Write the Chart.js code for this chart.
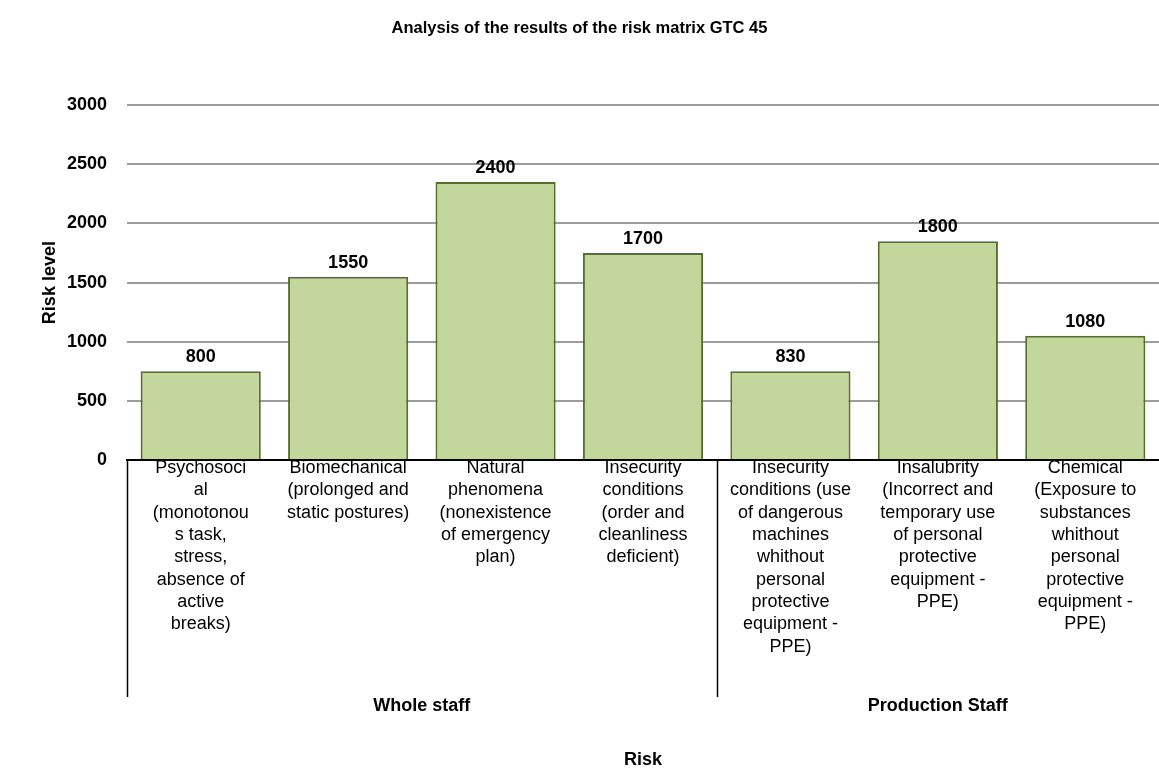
<!DOCTYPE html>
<html>
<head>
<meta charset="utf-8">
<script src="https://cdn.jsdelivr.net/npm/chart.js@4"></script>
<style>
  html, body { margin:0; padding:0; background:#fff; overflow:hidden; }
</style>
</head>
<body>
<canvas id="chart" width="1159" height="772"></canvas>
<script>
// Categorias, partidas en lineas como en la figura original
const categorias = [
  ['Psychosoci', 'al', '(monotonou', 's task,', 'stress,', 'absence of', 'active', 'breaks)'],
  ['Biomechanical', '(prolonged and', 'static postures)'],
  ['Natural', 'phenomena', '(nonexistence', 'of emergency', 'plan)'],
  ['Insecurity', 'conditions', '(order and', 'cleanliness', 'deficient)'],
  ['Insecurity', 'conditions (use', 'of dangerous', 'machines', 'whithout', 'personal', 'protective', 'equipment -', 'PPE)'],
  ['Insalubrity', '(Incorrect and', 'temporary use', 'of personal', 'protective', 'equipment -', 'PPE)'],
  ['Chemical', '(Exposure to', 'substances', 'whithout', 'personal', 'protective', 'equipment -', 'PPE)']
];
const grupos = ['Whole staff', 'Production Staff'];
const tamGrupos = [4, 3];

// altura de las barras y el texto que lleva encima
const nivelRiesgo = [750, 1550, 2350, 1750, 750, 1850, 1050];
const etiquetas = ['800', '1550', '2400', '1700', '830', '1800', '1080'];
const ticksY = [0, 500, 1000, 1500, 2000, 2500, 3000];

const FUENTE = '"Liberation Sans", Arial, sans-serif';
Chart.defaults.color = '#000';
Chart.defaults.font.family = FUENTE;

const extras = {
  id: 'extras',
  afterDatasetsDraw(chart) {
    const ctx = chart.ctx;
    const meta = chart.getDatasetMeta(0);
    ctx.save();
    ctx.font = 'bold 18px ' + FUENTE;
    ctx.fillStyle = '#000';
    ctx.textAlign = 'center';
    ctx.textBaseline = 'middle';
    meta.data.forEach((bar, i) => ctx.fillText(etiquetas[i], bar.x, bar.y - 14));
    ctx.restore();
  },
  afterDraw(chart) {
    const x = chart.scales.x;
    const ctx = chart.ctx;
    const paso = x.getPixelForValue(1) - x.getPixelForValue(0);
    let inicio = 0;
    ctx.save();
    ctx.strokeStyle = '#000';
    ctx.lineWidth = 1.5;
    ctx.font = 'bold 18px ' + FUENTE;
    ctx.fillStyle = '#000';
    ctx.textAlign = 'center';
    ctx.textBaseline = 'middle';
    grupos.forEach((g, k) => {
      const izq = x.getPixelForValue(inicio) - paso / 2;
      const der = x.getPixelForValue(inicio + tamGrupos[k] - 1) + paso / 2;
      ctx.beginPath();
      ctx.moveTo(Math.round(izq) + 0.5, x.top);
      ctx.lineTo(Math.round(izq) + 0.5, x.top + 237);
      ctx.stroke();
      ctx.fillText(g, (izq + der) / 2, x.top + 246);
      inicio += tamGrupos[k];
    });
    ctx.restore();
  }
};

new Chart(document.getElementById('chart'), {
  type: 'bar',
  data: {
    labels: categorias,
    datasets: [{
      label: 'Risk level',
      data: nivelRiesgo,
      backgroundColor: '#c3d69b',
      borderColor: '#556f2c',
      borderWidth: 2,
      categoryPercentage: 1,
      barPercentage: 0.815
    }]
  },
  options: {
    responsive: false,
    animation: false,
    devicePixelRatio: 1,
    layout: { padding: 0 },
    plugins: {
      legend: { display: false },
      tooltip: { enabled: false },
      title: {
        display: true,
        text: 'Analysis of the results of the risk matrix GTC 45',
        font: { size: 16.5, weight: 'bold' },
        color: '#000',
        padding: { top: 19, bottom: 66.4 }
      }
    },
    scales: {
      x: {
        grid: { display: false, drawTicks: false },
        border: { display: true, color: '#000', width: 2 },
        ticks: {
          autoSkip: false,
          maxRotation: 0,
          minRotation: 0,
          padding: -3,
          font: { size: 18, lineHeight: 1.24 },
          color: '#000'
        },
        title: {
          display: true,
          text: 'Risk',
          font: { size: 18, weight: 'bold' },
          padding: { top: 0, bottom: 1.2 }
        },
        afterFit: s => { s.height = 312; }
      },
      y: {
        min: 0,
        max: 3000,
        grid: {
          drawTicks: false,
          color: ctx => ctx.tick && ctx.tick.value === 0 ? 'rgba(0,0,0,0)' : '#9c9c9c',
          lineWidth: 2
        },
        border: { display: false },
        afterBuildTicks: s => { s.ticks = ticksY.map(v => ({ value: v })); },
        ticks: {
          padding: 20,
          font: { size: 18, weight: 'bold' },
          color: '#000',
          callback: v => String(v)
        },
        title: {
          display: true,
          text: 'Risk level',
          font: { size: 18, weight: 'bold' },
          padding: { top: 39.2, bottom: 0 }
        },
        afterFit: s => { s.width = 127; }
      }
    }
  },
  plugins: [extras]
});
</script>
</body>
</html>
